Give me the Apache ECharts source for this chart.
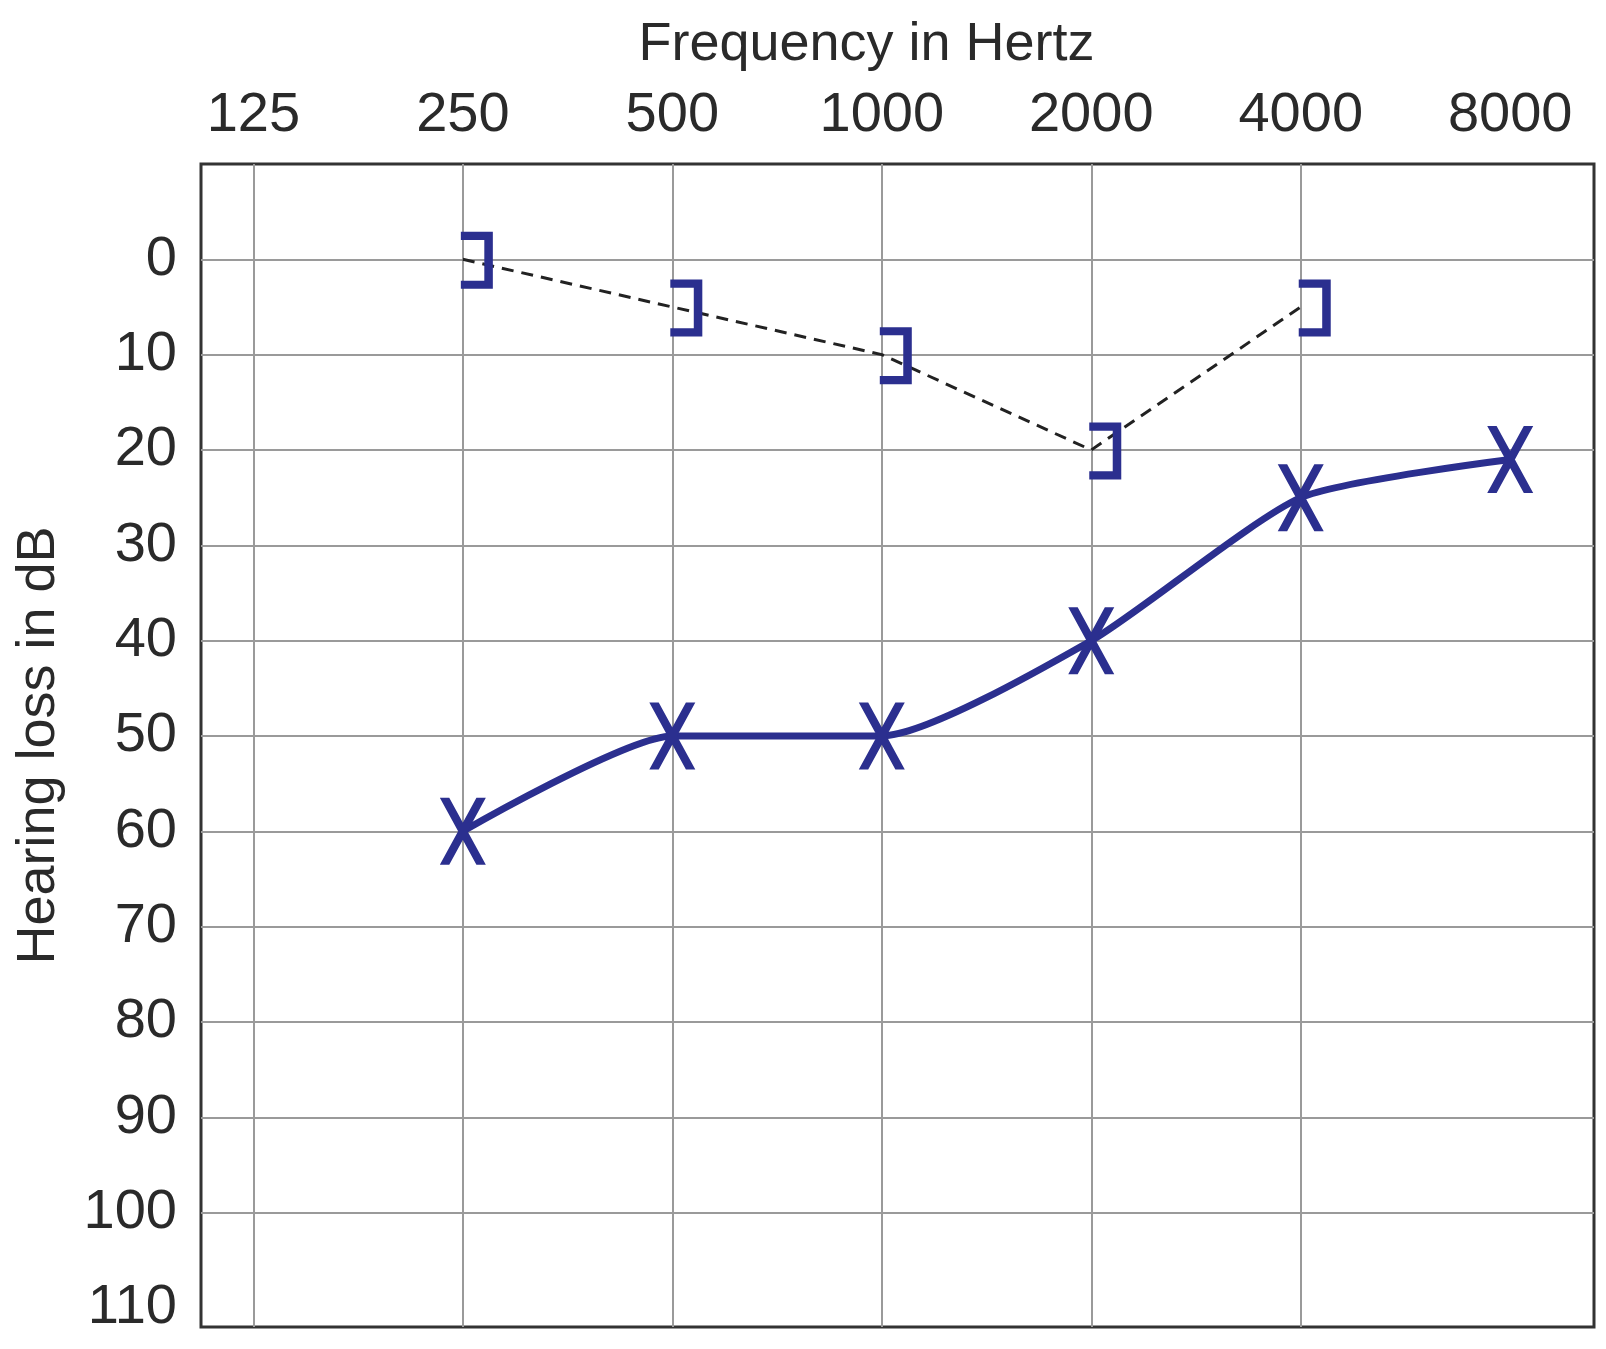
<!DOCTYPE html>
<html>
<head>
<meta charset="utf-8">
<title>Audiogram</title>
<script src="https://cdn.jsdelivr.net/npm/echarts@6/dist/echarts.min.js"></script>
<style>
  html, body { margin: 0; padding: 0; background: #fff; }
  #chart { width: 1606px; height: 1349px; }
</style>
</head>
<body>
<div id="chart"></div>
<script>
// tick labels of the top axis (Hz)
const frequencies = [125, 250, 500, 1000, 2000, 4000, 8000]
// tick labels of the left axis (dB)
const dbTicks = [0, 10, 20, 30, 40, 50, 60, 70, 80, 90, 100, 110]

// air conduction (X, solid line)
const airFreqs = [250, 500, 1000, 2000, 4000, 8000]
const airDb = [60, 50, 50, 40, 25, 21]

// bone conduction (], dashed line)
const boneFreqs = [250, 500, 1000, 2000, 4000]
const boneDb = [0, 5, 10, 20, 5]

const blue = '#2b2f8f'
const gridGray = '#9a9a9a'
const textColor = '#2a2a2a'
const font = "'Liberation Sans', Arial, sans-serif"

// x = octaves above 125 Hz
const octave = f => Math.log2(f / 125)

const xMin = -0.25, xMax = 6.4, xStep = 0.25
const yMin = -10, yMax = 112, yStep = 10

// only draw the vertical lines 125..4000 and the horizontal lines 0..100
const xLineColors = []
for (let i = 0; xMin + i * xStep <= xMax + 1e-9; i++) {
  const v = xMin + i * xStep
  const k = Math.round(v)
  xLineColors.push(Math.abs(v - k) < 1e-6 && k >= 0 && k <= 5 ? gridGray : 'transparent')
}
xLineColors.push('transparent')

const yLineColors = []
for (let v = yMin; v <= yMax; v += yStep) {
  yLineColors.push(v >= 0 && v <= 100 ? gridGray : 'transparent')
}
yLineColors.push('transparent')

const xSymbol = 'path://M0,0 L9,0 L44,68 L35,68 Z M35,0 L44,0 L9,68 L0,68 Z'
const bracketSymbol = 'path://M0,0 H30 V56 H0 V48 H22 V8 H0 Z'

const chart = echarts.init(document.getElementById('chart'))

chart.setOption({
  animation: false,
  backgroundColor: '#fff',
  grid: {
    left: 201,
    right: 12,
    top: 164,
    bottom: 22,
    show: true,
    borderColor: '#333',
    borderWidth: 3,
    outerBoundsMode: 'none'
  },
  xAxis: {
    type: 'value',
    position: 'top',
    min: xMin,
    max: xMax,
    interval: xStep,
    name: 'Frequency in Hertz',
    nameLocation: 'middle',
    nameGap: 92,
    nameTextStyle: {
      fontSize: 54,
      fontFamily: font,
      color: textColor,
      padding: [0, 62, 0, 0]
    },
    axisLine: { show: false },
    axisTick: { show: false },
    axisLabel: {
      margin: 20,
      fontSize: 56,
      fontFamily: font,
      color: textColor,
      formatter: v => {
        const k = Math.round(v)
        return Math.abs(v - k) < 1e-6 && k >= 0 && k < frequencies.length ? String(frequencies[k]) : ''
      }
    },
    splitLine: { show: true, lineStyle: { color: xLineColors, width: 2 } }
  },
  yAxis: {
    type: 'value',
    inverse: true,
    min: yMin,
    max: yMax,
    interval: yStep,
    name: 'Hearing loss in dB',
    nameLocation: 'middle',
    nameGap: 135,
    nameTextStyle: {
      fontSize: 54,
      fontFamily: font,
      color: textColor
    },
    axisLine: { show: false },
    axisTick: { show: false },
    axisLabel: {
      margin: 24,
      fontSize: 56,
      fontFamily: font,
      color: textColor,
      formatter: v => (dbTicks.includes(v) ? String(v) : '')
    },
    splitLine: { show: true, lineStyle: { color: yLineColors, width: 2 } }
  },
  series: [
    {
      name: 'Bone conduction',
      type: 'line',
      data: boneFreqs.map((f, i) => [octave(f), boneDb[i]]),
      lineStyle: { color: '#222', width: 3, type: [12, 8] },
      symbol: bracketSymbol,
      symbolSize: [32, 57],
      symbolOffset: [14, 1],
      itemStyle: { color: blue },
      emphasis: { disabled: true },
      z: 2
    },
    {
      name: 'Air conduction',
      type: 'line',
      data: airFreqs.map((f, i) => [octave(f), airDb[i]]),
      smooth: 0.2,
      lineStyle: { color: blue, width: 7 },
      symbol: xSymbol,
      symbolSize: [46, 67],
      itemStyle: { color: blue },
      emphasis: { disabled: true },
      z: 3
    }
  ]
})
</script>
</body>
</html>
